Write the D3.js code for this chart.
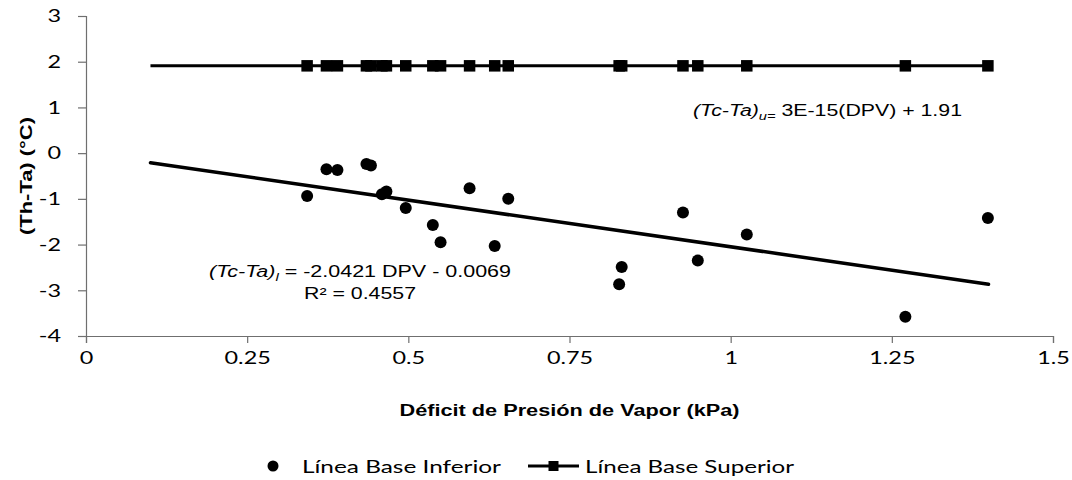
<!DOCTYPE html>
<html>
<head>
<meta charset="utf-8">
<script src="https://cdn.jsdelivr.net/npm/d3@7"></script>
<style>
  html, body { margin: 0; padding: 0; background: #fff; }
  svg { display: block; }
  .axis .domain, .axis line { stroke: #6f6f6f; stroke-width: 1.2px; }
  .axis text { font-family: Lato, "Open Sans", sans-serif; font-size: 18px; fill: #000; }
  .axis-title { font-family: "Liberation Sans", Arial, sans-serif; font-weight: bold; font-size: 16px; fill: #000; }
  .eq { font-family: "Liberation Sans", Arial, sans-serif; font-size: 16px; fill: #000; }
  .legend text { font-family: Lato, "Open Sans", sans-serif; font-size: 18px; fill: #000; }
</style>
</head>
<body>
<div id="chart"></div>
<script>
// data
const dpv = [0.343, 0.373, 0.390, 0.435, 0.442, 0.459, 0.466, 0.496, 0.538, 0.550,
             0.595, 0.634, 0.655, 0.831, 0.827, 0.926, 0.949, 1.025, 1.271, 1.399];
const lowerBase = [-0.94, -0.35, -0.37, -0.24, -0.27, -0.90, -0.84, -1.20, -1.57, -1.95,
                   -0.77, -2.03, -1.00, -2.49, -2.87, -1.30, -2.35, -1.78, -3.58, -1.42];
const upperBase = [1.91, 1.91, 1.91, 1.91, 1.91, 1.91, 1.91, 1.91, 1.91, 1.91,
                   1.91, 1.91, 1.91, 1.91, 1.91, 1.91, 1.91, 1.91, 1.91, 1.91];
const seriesNames = ["Línea Base Inferior", "Línea Base Superior"];

// trendlines: [slope, intercept] and drawn x range
const lowerFit = [-2.0421, -0.0069];
const upperFit = [3e-15, 1.91];
const fitRange = [0.1, 1.4];

const xTicks = [0, 0.25, 0.5, 0.75, 1, 1.25, 1.5];
const xTickLabels = ["0", "0.25", "0.5", "0.75", "1", "1.25", "1.5"];
const yTicks = [-4, -3, -2, -1, 0, 1, 2, 3];
const yTickLabels = ["-4", "-3", "-2", "-1", "0", "1", "2", "3"];

(function () {
  "use strict";

  const W = 1072, H = 480;
  const margin = { top: 16, right: 19, bottom: 144, left: 86 };
  const width = W - margin.left - margin.right;
  const height = H - margin.top - margin.bottom;

  // stretch text horizontally (the reference text is wide)
  function stretch(sel, k) {
    sel.each(function () {
      const w = this.getComputedTextLength();
      d3.select(this).attr("textLength", w * k).attr("lengthAdjust", "spacingAndGlyphs");
    });
  }
  function fitTo(sel, w) {
    sel.attr("textLength", w).attr("lengthAdjust", "spacingAndGlyphs");
  }

  const x = d3.scaleLinear().domain([0, 1.5]).range([0, width]);
  const y = d3.scaleLinear().domain([-4, 3]).range([height, 0]);

  const svg = d3.select("#chart").append("svg")
    .attr("width", W)
    .attr("height", H);

  const g = svg.append("g")
    .attr("transform", `translate(${margin.left},${margin.top})`);

  // axes
  const yAxis = g.append("g")
    .attr("class", "axis")
    .call(d3.axisLeft(y).tickValues(yTicks).tickFormat((d, i) => yTickLabels[i]).tickSizeOuter(0).tickSize(8).tickPadding(17));
  yAxis.selectAll("text").call(stretch, 1.3);

  const xAxis = g.append("g")
    .attr("class", "axis")
    .attr("transform", `translate(0,${height})`)
    .call(d3.axisBottom(x).tickValues(xTicks).tickFormat((d, i) => xTickLabels[i]).tickSizeOuter(0).tickSize(7).tickPadding(8));
  xAxis.selectAll("text").call(stretch, 1.3);

  // upper base line + its trend
  const line = d3.line().x(d => x(d[0])).y(d => y(d[1]));
  g.append("path")
    .datum(fitRange.map(v => [v, upperFit[0] * v + upperFit[1]]))
    .attr("d", line)
    .attr("fill", "none")
    .attr("stroke", "#000")
    .attr("stroke-width", 3);

  const sq = 11.5;
  g.selectAll(".sq")
    .data(dpv.map((v, i) => [v, upperBase[i]]))
    .join("rect")
    .attr("class", "sq")
    .attr("x", d => x(d[0]) - sq / 2)
    .attr("y", d => y(d[1]) - sq / 2)
    .attr("width", sq)
    .attr("height", sq)
    .attr("fill", "#000");

  // lower trendline
  g.append("path")
    .datum(fitRange.map(v => [v, lowerFit[0] * v + lowerFit[1]]))
    .attr("d", line)
    .attr("fill", "none")
    .attr("stroke", "#000")
    .attr("stroke-width", 3.5)
    .attr("stroke-linecap", "round");

  g.selectAll(".dot")
    .data(dpv.map((v, i) => [v, lowerBase[i]]))
    .join("circle")
    .attr("class", "dot")
    .attr("cx", d => x(d[0]))
    .attr("cy", d => y(d[1]))
    .attr("r", 6)
    .attr("fill", "#000");

  // equation labels
  const eqU = svg.append("text").attr("class", "eq").attr("x", 693).attr("y", 116);
  eqU.append("tspan").attr("font-style", "italic").text("(Tc-Ta)");
  eqU.append("tspan").attr("font-style", "italic").attr("font-size", 11).attr("dy", 4).text("u=");
  eqU.append("tspan").attr("dy", -4).text(" 3E-15(DPV) + 1.91");
  fitTo(eqU, 269);

  const eqL = svg.append("text").attr("class", "eq").attr("x", 209).attr("y", 277);
  eqL.append("tspan").attr("font-style", "italic").text("(Tc-Ta)");
  eqL.append("tspan").attr("font-style", "italic").attr("font-size", 11).attr("dy", 4).text("l");
  eqL.append("tspan").attr("dy", -4).text(" = -2.0421 DPV - 0.0069");
  fitTo(eqL, 302);

  const r2 = svg.append("text").attr("class", "eq")
    .attr("x", 360).attr("y", 299).attr("text-anchor", "middle")
    .text("R² = 0.4557");
  fitTo(r2, 112);

  // axis titles
  const xTitle = svg.append("text").attr("class", "axis-title")
    .attr("x", margin.left + width / 2).attr("y", 416).attr("text-anchor", "middle")
    .text("Déficit de Presión de Vapor (kPa)");
  fitTo(xTitle, 340);

  const yTitle = svg.append("text").attr("class", "axis-title")
    .attr("transform", `translate(32,${margin.top + height / 2}) rotate(-90)`)
    .attr("text-anchor", "middle")
    .attr("font-size", 21)
    .text("(Th-Ta) (°C)");
  fitTo(yTitle, 118);

  // legend
  const legend = svg.append("g").attr("class", "legend").attr("transform", "translate(0,466)");
  legend.append("circle").attr("cx", 273).attr("cy", 0).attr("r", 5.5).attr("fill", "#000");
  fitTo(legend.append("text").attr("x", 302).attr("y", 6.5).text(seriesNames[0]), 199);
  legend.append("line").attr("x1", 528).attr("x2", 579).attr("y1", 0).attr("y2", 0)
    .attr("stroke", "#000").attr("stroke-width", 3);
  legend.append("rect").attr("x", 553.5 - 5).attr("y", -5).attr("width", 10).attr("height", 10).attr("fill", "#000");
  fitTo(legend.append("text").attr("x", 585).attr("y", 6.5).text(seriesNames[1]), 209);
})();
</script>
</body>
</html>
